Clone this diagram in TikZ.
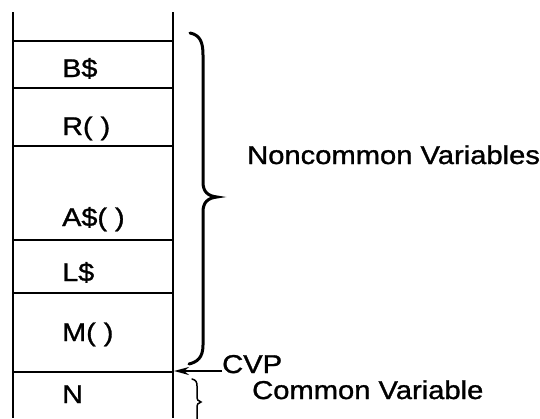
\documentclass[tikz,border=0pt]{standalone}
\usepackage{fontspec}
\setmainfont{Liberation Sans}[FakeStretch=1.13,FakeBold=1.2]
\usetikzlibrary{arrows.meta}
\begin{document}
\begin{tikzpicture}[x=1pt,y=-1pt,
  stackline/.style={line width=1.8pt},
  cell/.style={anchor=base west,inner sep=0pt,font=\fontsize{25.5}{30}\selectfont},
  lbl/.style={anchor=base west,inner sep=0pt,font=\fontsize{25.8}{30}\selectfont},
  bigbrace/.style={line width=3pt,line cap=round},
  smallbrace/.style={line width=1.5pt,line cap=round},
  ptr/.style={line width=1.8pt,-{Stealth[length=15pt,width=8pt]}}]
\useasboundingbox (0,0) rectangle (540,418);
\begin{scope}
\clip (0,0) rectangle (540,418);
% stack walls
\coordinate (lt) at (13,12);
\coordinate (lb) at (13,418);
\coordinate (rt) at (173,12);
\coordinate (rb) at (173,418);
\draw[stackline] (lt) -- (lb);
\draw[stackline] (rt) -- (rb);
% cell separators
\foreach \y in {41,88,146,240,293,372}
  \draw[stackline] (13,\y) -- (173,\y);
% cell contents
\node[cell] (bs) at (62,77) {B\$};
\node[cell] (r) at (62,135) {R( )};
\node[cell] (as) at (62,226) {A\$( )};
\node[cell] (ls) at (62,281) {L\$};
\node[cell] (m) at (62,341) {M( )};
\node[cell] (n) at (62,403) {N};
% brace over the noncommon block
\draw[bigbrace] (190,33) .. controls (200,35) and (203,42) .. (203,55)
  -- (203,182) .. controls (203,192) and (208,196) .. (217,197)
  .. controls (208,198) and (203,202) .. (203,212)
  -- (203,345) .. controls (203,358) and (197,362) .. (189,364);
% brace over the common block
\draw[smallbrace] (192,379) .. controls (196,380) and (197,382) .. (197,386)
  -- (197,396) .. controls (197,400) and (198,401) .. (201,402)
  .. controls (198,403) and (197,404) .. (197,408) -- (197,424);
% labels
\node[lbl] (nc) at (247,164) {Noncommon Variables};
\node[lbl] (cvp) at (222,373) {CVP};
\node[lbl] (cv) at (252,399) {Common Variable};
% pointer
\coordinate (cvpin) at (174,371);
\draw[ptr] (cvp.west |- cvpin) -- (cvpin);
\end{scope}
\end{tikzpicture}
\end{document}
